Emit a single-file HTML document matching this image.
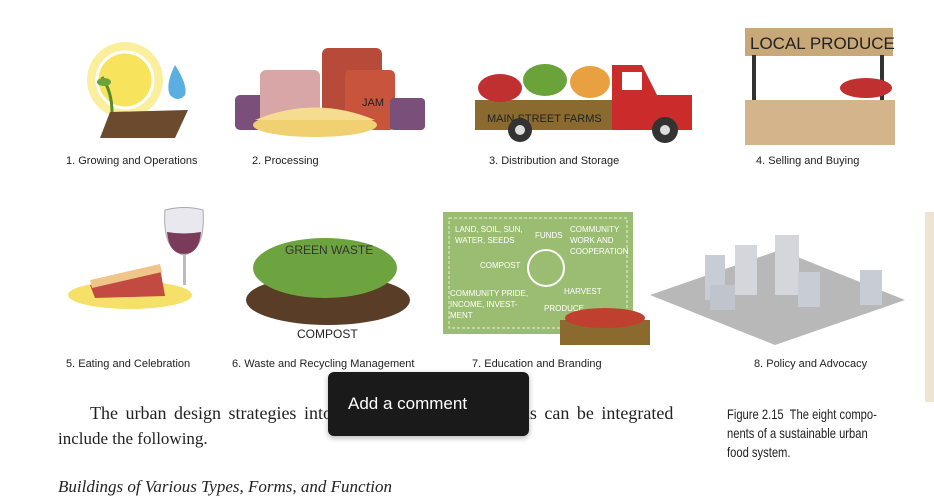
<!DOCTYPE html>
<html><head><meta charset="utf-8"><style>
body{margin:0;width:934px;height:488px;overflow:hidden;background:#fff;position:relative;font-family:"Liberation Sans",sans-serif}
.lab{position:absolute;font-size:11px;color:#222;white-space:nowrap}
.ser{position:absolute;font-family:"Liberation Serif",serif;font-size:17px;color:#222;white-space:nowrap}
</style></head><body>
<svg width="934" height="488" style="position:absolute;left:0;top:0">
<circle cx="125" cy="80" r="38" fill="#fbef9e"/><circle cx="125" cy="80" r="28" fill="#f8e45c" stroke="#fff" stroke-width="3"/>
<path d="M175 65 q-10 20 -5 30 q8 8 15 0 q3 -10 -10 -30z" fill="#5aaee0"/>
<polygon points="110,112 188,110 175,138 100,138" fill="#6b4a2e"/>
<path d="M112 112 q0 -20 -10 -35" stroke="#5a8a2e" stroke-width="3" fill="none"/><ellipse cx="104" cy="82" rx="7" ry="4" fill="#6aa33a"/>
<rect x="235" y="95" width="40" height="35" rx="5" fill="#7a4f7a"/><rect x="260" y="70" width="60" height="60" rx="6" fill="#d8a6a6"/>
<rect x="322" y="48" width="60" height="82" rx="6" fill="#b84a3a"/><rect x="345" y="70" width="50" height="60" rx="5" fill="#c9543c"/>
<rect x="390" y="98" width="35" height="32" rx="4" fill="#7a4f7a"/>
<text x="362" y="106" font-size="11" fill="#222">JAM</text>
<ellipse cx="315" cy="125" rx="62" ry="12" fill="#f0d070"/><path d="M255 120 q60 -25 120 0z" fill="#f6dc8e"/>
<rect x="475" y="100" width="140" height="30" fill="#8a6a2e"/><text x="487" y="122" font-size="11" fill="#222">MAIN STREET FARMS</text>
<ellipse cx="500" cy="88" rx="22" ry="14" fill="#c03030"/><ellipse cx="545" cy="80" rx="22" ry="16" fill="#6aa33a"/><ellipse cx="590" cy="82" rx="20" ry="16" fill="#e8a040"/>
<path d="M612 65 h30 l15 30 h35 v35 h-80z" fill="#cc2b2b"/><rect x="622" y="72" width="20" height="18" fill="#fff"/>
<circle cx="520" cy="130" r="12" fill="#333"/><circle cx="520" cy="130" r="5" fill="#ddd"/><circle cx="665" cy="130" r="13" fill="#333"/><circle cx="665" cy="130" r="5" fill="#ddd"/>
<rect x="745" y="28" width="148" height="28" fill="#c8a878"/><text x="750" y="49" font-size="17" fill="#222">LOCAL PRODUCE</text>
<rect x="752" y="55" width="4" height="50" fill="#333"/><rect x="880" y="55" width="4" height="50" fill="#333"/>
<rect x="745" y="100" width="150" height="45" fill="#d4b48a"/><ellipse cx="866" cy="88" rx="26" ry="10" fill="#c03030"/>
<ellipse cx="130" cy="295" rx="62" ry="14" fill="#f5e06a"/><polygon points="90,285 160,268 165,296 95,298" fill="#c24a40"/><polygon points="90,280 160,264 162,272 92,288" fill="#f0c58a"/>
<path d="M165 210 q20 -5 38 0 q3 40 -19 45 q-22 -5 -19 -45z" fill="#e8e8ee" stroke="#aaa"/><path d="M167 232 q17 3 34 0 q-2 22 -17 22 q-15 0 -17 -22z" fill="#7a3a5a"/>
<rect x="183" y="255" width="3" height="30" fill="#bbb"/>
<ellipse cx="328" cy="300" rx="82" ry="25" fill="#5a3d26"/><ellipse cx="325" cy="268" rx="72" ry="30" fill="#6da43f"/>
<text x="285" y="254" font-size="12" fill="#333">GREEN WASTE</text><text x="297" y="338" font-size="12" fill="#222">COMPOST</text>
<rect x="443" y="212" width="190" height="122" fill="#9bbd72"/><rect x="449" y="218" width="178" height="110" fill="none" stroke="#e8f0d8" stroke-dasharray="3,2"/>
<circle cx="546" cy="268" r="18" fill="none" stroke="#fff" stroke-width="2"/>
<g font-size="8" fill="#fff"><text x="455" y="232">LAND, SOIL, SUN,</text><text x="455" y="243">WATER, SEEDS</text><text x="535" y="238">FUNDS</text><text x="570" y="232">COMMUNITY</text><text x="570" y="243">WORK AND</text><text x="570" y="254">COOPERATION</text><text x="480" y="268">COMPOST</text><text x="564" y="294">HARVEST</text><text x="450" y="296">COMMUNITY PRIDE,</text><text x="450" y="307">INCOME, INVEST-</text><text x="450" y="318">MENT</text><text x="544" y="311">PRODUCE</text></g>
<rect x="560" y="320" width="90" height="25" fill="#8a6a2e"/><ellipse cx="605" cy="318" rx="40" ry="10" fill="#c04030"/>
<polygon points="650,295 780,250 905,300 775,345" fill="#b8b8b8"/>
<rect x="705" y="255" width="20" height="45" fill="#c8ccd4"/><rect x="735" y="245" width="22" height="50" fill="#d4d6dc"/><rect x="775" y="235" width="24" height="60" fill="#d4d6dc"/><rect x="798" y="272" width="22" height="35" fill="#c8ccd4"/><rect x="860" y="270" width="22" height="35" fill="#c8ccd4"/><rect x="710" y="285" width="25" height="25" fill="#c0c4cc"/>
<rect x="925" y="212" width="9" height="190" fill="#ede4d4"/>
</svg>
<div class="lab" style="left:66px;top:155px">1. Growing and Operations</div>
<div class="lab" style="left:252px;top:155px">2. Processing</div>
<div class="lab" style="left:489px;top:155px">3. Distribution and Storage</div>
<div class="lab" style="left:756px;top:155px">4. Selling and Buying</div>
<div class="lab" style="left:66px;top:358px">5. Eating and Celebration</div>
<div class="lab" style="left:232px;top:358px">6. Waste and Recycling Management</div>
<div class="lab" style="left:472px;top:358px">7. Education and Branding</div>
<div class="lab" style="left:754px;top:358px">8. Policy and Advocacy</div>
<div class="ser" style="left:90px;top:403px;font-size:18px;word-spacing:3px">The urban design strategies into which urban food systems can be integrated</div>
<div class="ser" style="left:58px;top:429px">include the following.</div>
<div class="ser" style="left:58px;top:477px;font-style:italic">Buildings of Various Types, Forms, and Function</div>
<div style="position:absolute;left:727px;top:405px;font-size:14px;line-height:19px;color:#222;transform:scaleX(0.8);transform-origin:left;white-space:nowrap">Figure 2.15&nbsp; The eight compo-<br>nents of a sustainable urban<br>food system.</div>
<div style="position:absolute;left:328px;top:372px;width:201px;height:64px;background:#1a1a1a;border-radius:6px;box-shadow:0 2px 6px rgba(0,0,0,.3)"><div style="position:absolute;left:20px;top:22px;color:#fff;font-size:17px">Add a comment</div></div>
</body></html>
